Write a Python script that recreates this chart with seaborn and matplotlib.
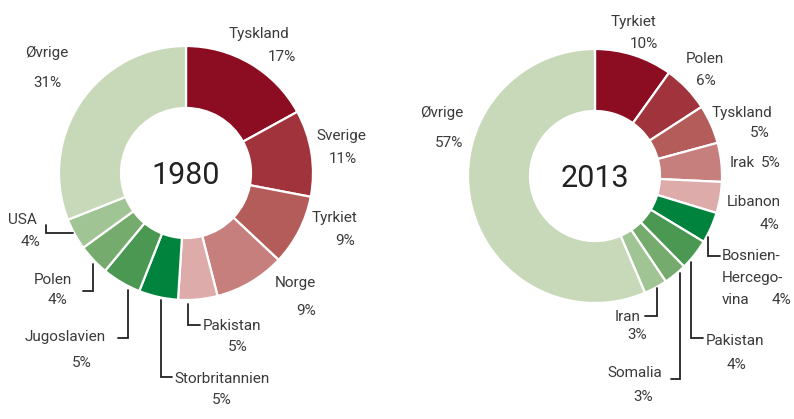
import matplotlib
matplotlib.use("Agg")
import matplotlib.pyplot as plt
import seaborn as sns

# Data (share of immigrants by country of origin, %)
countries_1980 = ["Tyskland", "Sverige", "Tyrkiet", "Norge", "Pakistan",
                  "Storbritannien", "Jugoslavien", "Polen", "USA", "Øvrige"]
shares_1980 = [17, 11, 9, 9, 5, 5, 5, 4, 4, 31]

countries_2013 = ["Tyrkiet", "Polen", "Tyskland", "Irak", "Libanon",
                  "Bosnien-Hercegovina", "Pakistan", "Somalia", "Iran", "Øvrige"]
shares_2013 = [10, 6, 5, 5, 4, 4, 4, 3, 3, 57]

years = ["1980", "2013"]

# reds for the first five, greens for the rest
palette = sns.color_palette(["#8c0d22", "#a0333b", "#b35c5a", "#c77f7d", "#ddacaa",
                             "#00843d", "#4a9852", "#76ab6e", "#a0c494", "#c8d9ba"])

TXT = "#3a3a3a"
FS = 11
W, H = 794, 419


def set_style():
    sns.set_theme(style="white")
    plt.rcParams["font.family"] = ["Roboto", "DejaVu Sans"]
    plt.rcParams["text.color"] = TXT


def donut(ax, shares, center, year):
    # y axis runs downwards (pixel coords), so start at 270 and go "counterclock"
    ax.pie(shares, colors=palette, center=center, radius=127,
           startangle=270, counterclock=True, frame=True,
           wedgeprops=dict(width=62, edgecolor="white", linewidth=1.6))
    ax.text(center[0], center[1] + 2, year, ha="center", va="center",
            fontsize=22, color="#222222")


def label(ax, x, y, s, pct, px, py):
    ax.text(x, y, s, ha="center", va="center", fontsize=FS)
    ax.text(px, py, pct, ha="center", va="center", fontsize=FS)


def leader(ax, pts):
    xs, ys = zip(*pts)
    ax.plot(xs, ys, color="#222222", lw=1.3, solid_joinstyle="miter")


def main():
    set_style()
    fig = plt.figure(figsize=(W / 100, H / 100), dpi=100)
    ax = fig.add_axes([0, 0, 1, 1])

    donut(ax, shares_1980, (186, 173), years[0])
    donut(ax, shares_2013, (595, 176), years[1])

    pct80 = [f"{v}%" for v in shares_1980]
    pct13 = [f"{v}%" for v in shares_2013]

    # 1980 labels
    label(ax, 259, 34, countries_1980[0], pct80[0], 282, 57)
    label(ax, 341, 136, countries_1980[1], pct80[1], 343, 159)
    label(ax, 335, 218, countries_1980[2], pct80[2], 345, 241)
    label(ax, 295, 283, countries_1980[3], pct80[3], 306, 311)
    label(ax, 232, 326, countries_1980[4], pct80[4], 238, 347)
    label(ax, 222, 379, countries_1980[5], pct80[5], 222, 400)
    label(ax, 65, 337, countries_1980[6], pct80[6], 82, 363)
    label(ax, 53, 280, countries_1980[7], pct80[7], 57, 300)
    label(ax, 22, 220, countries_1980[8], pct80[8], 30, 242)
    label(ax, 47, 53, countries_1980[9], pct80[9], 47, 83)

    leader(ax, [(46, 225), (46, 233), (73, 233)])
    leader(ax, [(83, 291), (93, 291), (93, 264)])
    leader(ax, [(118, 338), (128, 338), (128, 290)])
    leader(ax, [(172, 377), (161, 377), (161, 300)])
    leader(ax, [(200, 325), (188, 325), (188, 304)])

    # 2013 labels
    label(ax, 634, 22, countries_2013[0], pct13[0], 644, 44)
    label(ax, 705, 59, countries_2013[1], pct13[1], 706, 81)
    label(ax, 742, 113, countries_2013[2], pct13[2], 760, 133)
    ax.text(730, 163, countries_2013[3], ha="left", va="center", fontsize=FS)
    ax.text(781, 163, pct13[3], ha="right", va="center", fontsize=FS)
    label(ax, 754, 202, countries_2013[4], pct13[4], 769, 225)
    ax.text(722, 256, "Bosnien-", ha="left", va="center", fontsize=FS)
    ax.text(722, 278, "Hercego-", ha="left", va="center", fontsize=FS)
    ax.text(722, 300, "vina", ha="left", va="center", fontsize=FS)
    ax.text(791, 300, pct13[5], ha="right", va="center", fontsize=FS)
    label(ax, 735, 341, countries_2013[6], pct13[6], 736, 365)
    label(ax, 635, 373, countries_2013[7], pct13[7], 643, 397)
    label(ax, 628, 317, countries_2013[8], pct13[8], 637, 335)
    label(ax, 442, 113, countries_2013[9], pct13[9], 449, 143)

    leader(ax, [(708, 237), (708, 256), (720, 256)])
    leader(ax, [(691, 262), (691, 338), (703, 338)])
    leader(ax, [(680, 273), (680, 379), (671, 379)])
    leader(ax, [(657, 288), (657, 316), (645, 316)])

    ax.set_xlim(0, W)
    ax.set_ylim(H, 0)
    ax.axis("off")

    fig.savefig("out.png", dpi=100, facecolor="white")
    plt.close(fig)


if __name__ == "__main__":
    main()
